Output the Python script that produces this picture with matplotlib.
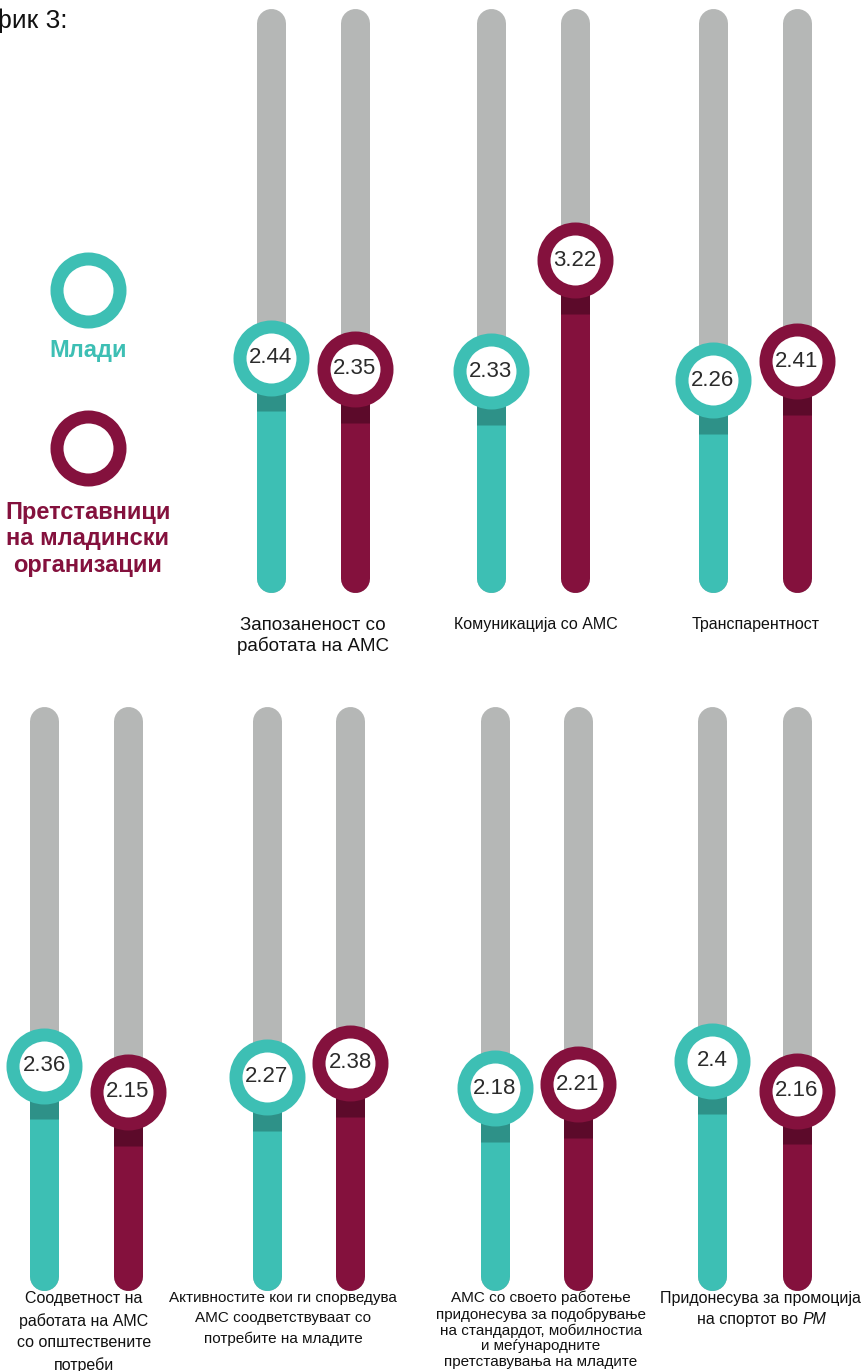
#!/usr/bin/env python3

import matplotlib
matplotlib.use('Agg')
import matplotlib.pyplot as plt

# data
top_labels = ['Запозаненост со\nработата на АМС', 'Комуникација со АМС', 'Транспарентност']
mladi_top = [2.44, 2.33, 2.26]
org_top = [2.35, 3.22, 2.41]

bottom_labels = ['Соодветност на\nработата на АМС\nсо општествените\nпотреби',
                 'Активностите кои ги спорведува\nАМС соодветствуваат со\nпотребите на младите',
                 'АМС со своето работење\nпридонесува за подобрување\nна стандардот, мобилностиа\nи меѓународните\nпретставувања на младите',
                 'Придонесува за промоција']
mladi_bot = [2.36, 2.27, 2.18, 2.4]
org_bot = [2.15, 2.38, 2.21, 2.16]

legend_names = ['Млади', 'Претставници\nна младински\nорганизации']

GRAY = '#b5b7b6'
TEAL = '#3dbfb4'
TEAL_D = '#2e9188'
MAR = '#84113d'
MAR_D = '#5c0a2a'
TXT = '#2b2b2b'

W, H = 861, 1371
fig = plt.figure(figsize=(W / 100, H / 100), dpi=100)

PX = 0.72  # points per pixel at dpi 100
SANS = ['Liberation Sans', 'DejaVu Sans']

# background axes in pixel space for legend, title and labels
bg = fig.add_axes([0, 0, 1, 1])
bg.set_xlim(0, W)
bg.set_ylim(H, 0)
bg.axis('off')

bg.text(67, 21, 'График 3:', ha='right', va='center', fontsize=19, family=SANS, color='#111111')

# legend
bg.plot([88], [290], 'o', ms=63 * PX, mfc='white', mec=TEAL, mew=13 * PX)
bg.text(88, 350, legend_names[0], ha='center', va='center', fontsize=17, fontweight='bold',
        color=TEAL, family=SANS)
bg.plot([88], [448], 'o', ms=63 * PX, mfc='white', mec=MAR, mew=13 * PX)
bg.text(88, 539, legend_names[1], ha='center', va='center', fontsize=17, fontweight='bold',
        color=MAR, family=SANS, linespacing=1.2)


def draw_row(ax, xs_m, vals_m, xs_o, vals_o):
    ax.set_xlim(0, W)
    ax.set_ylim(0.5, 5.3)
    ax.axis('off')
    lw = 29 * PX
    band = 0.43
    for xs, vals, col, dcol in [(xs_m, vals_m, TEAL, TEAL_D), (xs_o, vals_o, MAR, MAR_D)]:
        for x, v in zip(xs, vals):
            ax.plot([x, x], [0.68, 5.12], color=GRAY, lw=lw, solid_capstyle='round')
            ax.plot([x, x], [0.68, v], color=col, lw=lw, solid_capstyle='round')
            ax.plot([x, x], [v - band, v], color=dcol, lw=lw, solid_capstyle='butt')
            ax.plot([x], [v], 'o', ms=63 * PX, mfc='white', mec=col, mew=13 * PX)
            ax.text(x, v, f'{v:g}', ha='center', va='center', fontsize=16, color=TXT,
                    family=SANS)


ax1 = fig.add_axes([0, 1 - 600 / H, 1, 600 / H])
draw_row(ax1, [271, 491, 713], mladi_top, [355, 575, 797], org_top)

ax2 = fig.add_axes([0, 1 - 1298 / H, 1, 600 / H])
draw_row(ax2, [44, 267, 495, 712], mladi_bot, [128, 350, 578, 797], org_bot)

# category labels
top_cx = [313, 536, 756]
top_fs = [13.5, 11.5, 11.5]
for cx, lab, fs in zip(top_cx, top_labels, top_fs):
    bg.text(cx, 617, lab, ha='center', va='top', fontsize=fs, family=SANS, color='#111111',
            linespacing=1.2)

bot_cx = [84, 283, 541, 760]
bot_fs = [11.5, 11, 11, 11.5]
bot_ls = [1.55, 1.55, 1.15, 1.55]
for cx, lab, fs, ls in zip(bot_cx, bottom_labels, bot_fs, bot_ls):
    bg.text(cx, 1291, lab, ha='center', va='top', fontsize=fs, family=SANS, color='#111111',
            linespacing=ls)

t = bg.text(750, 1312, 'на спортот во ', ha='center', va='top', fontsize=11.5, family=SANS,
            color='#111111')
bg.annotate('РМ', xy=(1, 0), xycoords=t, ha='left', va='bottom', fontsize=11.5, family=SANS,
            style='italic', color='#111111')

fig.savefig('out.png', dpi=100)
